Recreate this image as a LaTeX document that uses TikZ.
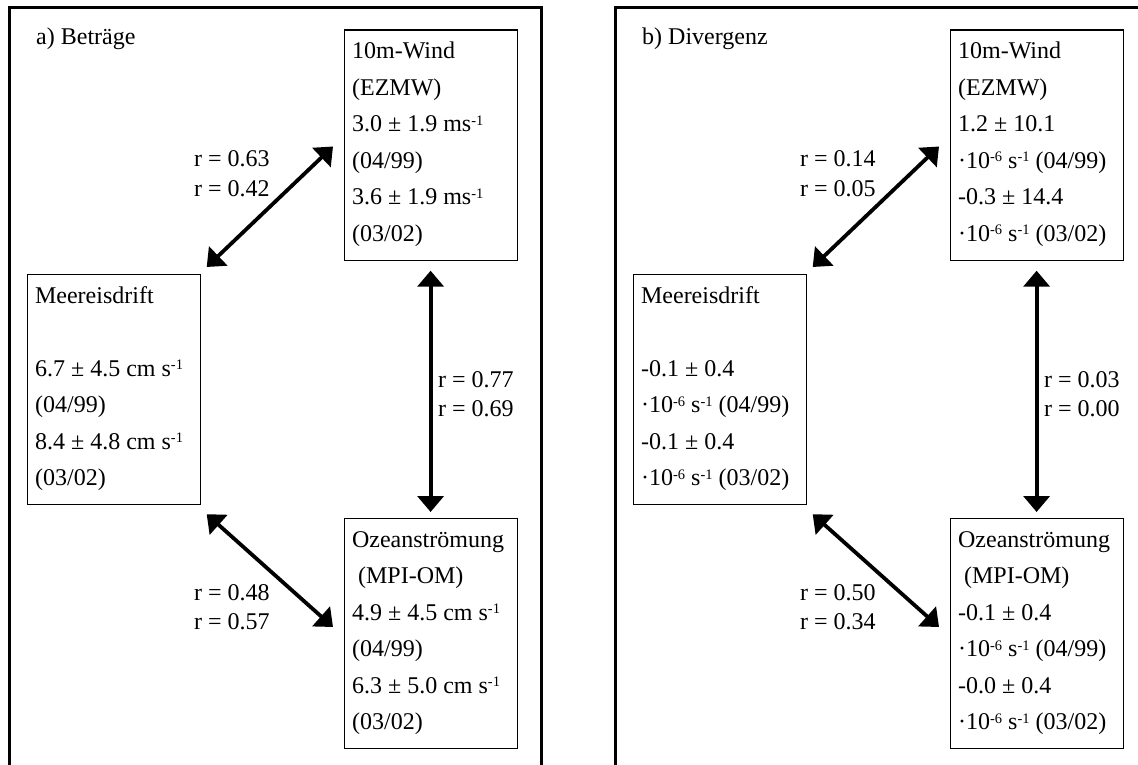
\documentclass[tikz,border=0pt]{standalone}
\usepackage{fontspec}
\setmainfont{Liberation Serif}
\usetikzlibrary{arrows.meta,calc}
\newcommand\fsz{\fontsize{24}{29.5}\selectfont}
\newcommand\supx[1]{\raisebox{6.5pt}{\fontsize{14.5}{14.5}\selectfont #1}}
\newcommand\boxlines[1]{\parbox[t][230pt][t]{157pt}{\baselineskip=36.5pt\rule{0pt}{28.5pt}#1}}
\newcommand\rlab[2]{\parbox[t]{100pt}{\baselineskip=29.5pt #1\\#2}}
\begin{document}
\begin{tikzpicture}[x=1pt,y=-1pt,
  frame/.style={line width=3pt},
  box/.style={draw, line width=1.2pt, inner xsep=8pt, inner ysep=0pt, anchor=north west, font=\fsz},
  lab/.style={inner sep=0pt, anchor=base west, font=\fsz},
  arr/.style={line width=3.8pt, {Triangle[length=16pt,width=26pt]}-{Triangle[length=16pt,width=26pt]}}]
\useasboundingbox (0,0) rectangle (1138,765);
\clip (0,0) rectangle (1138,765);
% frames
\draw[frame] (9,775) -- (9,8) -- (541,8) -- (541,775);
\draw[frame] (615,775) -- (615,8) -- (1147,8) -- (1147,775);
% ---- panel a
\node[lab] (ta) at (36,45) {a) Beträge};
\node[box] (wa) at (343.5,29.5) {\boxlines{10m-Wind\\(EZMW)\\3.0 ± 1.9 ms\supx{-1}\\(04/99)\\3.6 ± 1.9 ms\supx{-1}\\(03/02)}};
\node[box] (da) at (26.5,274) {\boxlines{Meereisdrift\\\mbox{}\\6.7 ± 4.5 cm s\supx{-1}\\(04/99)\\8.4 ± 4.8 cm s\supx{-1}\\(03/02)}};
\node[box] (oa) at (343.5,518) {\boxlines{Ozeanströmung\\\hspace*{6pt}(MPI-OM)\\4.9 ± 4.5 cm s\supx{-1}\\(04/99)\\6.3 ± 5.0 cm s\supx{-1}\\(03/02)}};
\draw[arr] ([shift={(6,-7)}]da.north east) -- ([shift={(-10.5,117)}]wa.north west);
\draw[arr] ([shift={(0,10)}]wa.south) -- ([shift={(0,-6)}]oa.north);
\draw[arr] ([shift={(6,9)}]da.south east) -- ([shift={(-10.5,109)}]oa.north west);
\node[lab] (r1a) at (194,167) {\rlab{r = 0.63}{r = 0.42}};
\node[lab] (r2a) at (438,387) {\rlab{r = 0.77}{r = 0.69}};
\node[lab] (r3a) at (194,600) {\rlab{r = 0.48}{r = 0.57}};
% ---- panel b
\node[lab] (tb) at (642,45) {b) Divergenz};
\node[box] (wb) at (949.5,29.5) {\boxlines{10m-Wind\\(EZMW)\\1.2 ± 10.1\\·10\supx{-6} s\supx{-1} (04/99)\\-0.3 ± 14.4\\·10\supx{-6} s\supx{-1} (03/02)}};
\node[box] (db) at (632.5,274) {\boxlines{Meereisdrift\\\mbox{}\\-0.1 ± 0.4\\·10\supx{-6} s\supx{-1} (04/99)\\-0.1 ± 0.4\\·10\supx{-6} s\supx{-1} (03/02)}};
\node[box] (ob) at (949.5,518) {\boxlines{Ozeanströmung\\\hspace*{6pt}(MPI-OM)\\-0.1 ± 0.4\\·10\supx{-6} s\supx{-1} (04/99)\\-0.0 ± 0.4\\·10\supx{-6} s\supx{-1} (03/02)}};
\draw[arr] ([shift={(6,-7)}]db.north east) -- ([shift={(-10.5,117)}]wb.north west);
\draw[arr] ([shift={(0,10)}]wb.south) -- ([shift={(0,-6)}]ob.north);
\draw[arr] ([shift={(6,9)}]db.south east) -- ([shift={(-10.5,109)}]ob.north west);
\node[lab] (r1b) at (800,167) {\rlab{r = 0.14}{r = 0.05}};
\node[lab] (r2b) at (1044,387) {\rlab{r = 0.03}{r = 0.00}};
\node[lab] (r3b) at (800,600) {\rlab{r = 0.50}{r = 0.34}};
\end{tikzpicture}
\end{document}
